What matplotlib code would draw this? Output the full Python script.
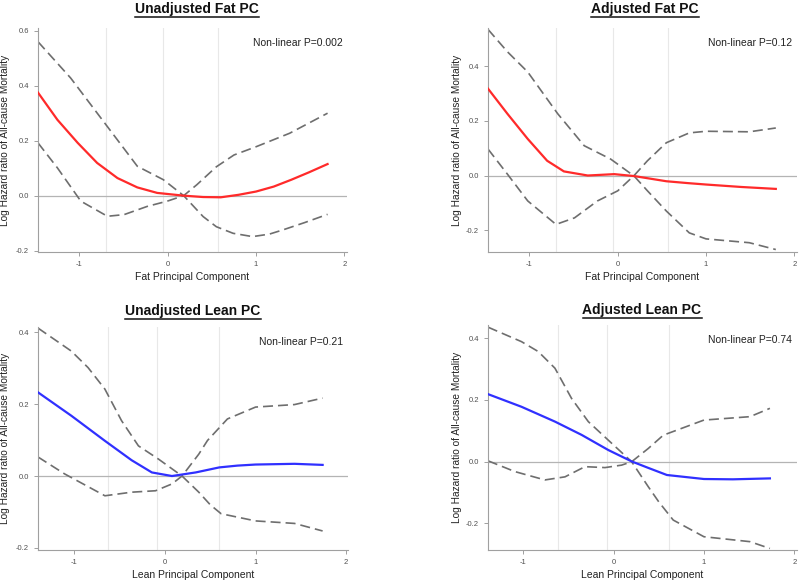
import matplotlib
matplotlib.use('Agg')
import matplotlib.pyplot as plt
from matplotlib.lines import Line2D

plt.rcParams['font.family'] = ['Liberation Sans', 'DejaVu Sans']

# ---- data ----
# Unadjusted Fat PC
uf_est_x = [-1.47, -1.25, -1.02, -0.8, -0.57, -0.345, -0.12, 0.18, 0.4, 0.6, 0.8, 1.0, 1.2, 1.4, 1.6, 1.81]
uf_est_y = [0.375, 0.276, 0.192, 0.119, 0.064, 0.030, 0.010, 0.0, -0.005, -0.006, 0.003, 0.015, 0.033, 0.058, 0.085, 0.115]
uf_ci1_x = [-1.47, -1.1, -0.7, -0.345, -0.05, 0.18, 0.4, 0.55, 0.74, 0.96, 1.15, 1.3, 1.55, 1.81]
uf_ci1_y = [0.56, 0.428, 0.258, 0.107, 0.058, 0.0, -0.076, -0.113, -0.137, -0.149, -0.14, -0.125, -0.098, -0.068]
uf_ci2_x = [-1.47, -1.25, -0.985, -0.684, -0.495, -0.232, -0.006, 0.18, 0.33, 0.55, 0.75, 1.0, 1.38, 1.81]
uf_ci2_y = [0.192, 0.101, -0.02, -0.075, -0.069, -0.039, -0.02, 0.0, 0.04, 0.105, 0.148, 0.178, 0.227, 0.30]

# Adjusted Fat PC
af_est_x = [-1.47, -1.25, -1.02, -0.8, -0.61, -0.34, -0.04, 0.185, 0.55, 0.8, 1.0, 1.4, 1.79]
af_est_y = [0.318, 0.226, 0.134, 0.054, 0.015, 0.0, 0.005, -0.002, -0.021, -0.028, -0.033, -0.042, -0.049]
af_ci1_x = [-1.47, -1.25, -1.02, -0.68, -0.38, -0.08, 0.185, 0.336, 0.55, 0.81, 1.0, 1.49, 1.79]
af_ci1_y = [0.535, 0.453, 0.379, 0.226, 0.109, 0.06, -0.002, -0.056, -0.13, -0.21, -0.232, -0.246, -0.271]
af_ci2_x = [-1.47, -1.25, -1.02, -0.7, -0.49, -0.23, 0.0, 0.185, 0.336, 0.55, 0.81, 1.0, 1.49, 1.79]
af_ci2_y = [0.097, 0.005, -0.093, -0.179, -0.155, -0.093, -0.056, 0.0, 0.054, 0.12, 0.156, 0.162, 0.16, 0.174]

# Unadjusted Lean PC
ul_est_x = [-1.40, -1.033, -0.662, -0.367, -0.144, 0.078, 0.34, 0.6, 0.8, 1.0, 1.43, 1.74]
ul_est_y = [0.233, 0.168, 0.098, 0.044, 0.010, 0.0, 0.01, 0.024, 0.029, 0.032, 0.034, 0.031]
ul_ci1_x = [-1.40, -1.033, -0.848, -0.662, -0.478, -0.292, -0.07, 0.189, 0.374, 0.5, 0.62, 1.0, 1.43, 1.74]
ul_ci1_y = [0.412, 0.348, 0.302, 0.242, 0.154, 0.084, 0.047, 0.0, -0.045, -0.08, -0.105, -0.125, -0.132, -0.153]
ul_ci2_x = [-1.40, -1.107, -0.662, -0.367, -0.103, 0.078, 0.189, 0.374, 0.47, 0.69, 1.0, 1.43, 1.74]
ul_ci2_y = [0.053, 0.006, -0.055, -0.045, -0.041, -0.022, 0.0, 0.061, 0.099, 0.159, 0.192, 0.199, 0.217]

# Adjusted Lean PC
al_est_x = [-1.39, -1.019, -0.649, -0.354, -0.059, 0.2, 0.384, 0.59, 1.0, 1.32, 1.73]
al_est_y = [0.219, 0.178, 0.130, 0.087, 0.038, 0.001, -0.02, -0.043, -0.056, -0.057, -0.054]
al_ci1_x = [-1.39, -1.019, -0.834, -0.649, -0.465, -0.28, -0.059, 0.2, 0.384, 0.5, 0.66, 1.0, 1.51, 1.73]
al_ci1_y = [0.436, 0.389, 0.357, 0.303, 0.205, 0.13, 0.07, 0.0, -0.081, -0.13, -0.189, -0.243, -0.259, -0.281]
al_ci2_x = [-1.39, -1.092, -0.76, -0.538, -0.317, -0.095, 0.089, 0.2, 0.384, 0.55, 1.0, 1.51, 1.73]
al_ci2_y = [0.003, -0.032, -0.059, -0.049, -0.016, -0.019, -0.011, 0.0, 0.043, 0.086, 0.135, 0.146, 0.173]

titles = ['Unadjusted Fat PC', 'Adjusted Fat PC', 'Unadjusted Lean PC', 'Adjusted Lean PC']
pvalues = ['Non-linear P=0.002', 'Non-linear P=0.12', 'Non-linear P=0.21', 'Non-linear P=0.74']
xlabels = ['Fat Principal Component', 'Fat Principal Component',
           'Lean Principal Component', 'Lean Principal Component']
ylabel = 'Log Hazard ratio of All-cause Mortality'
ref_lines = [[-0.70, -0.05, 0.57], [-0.70, -0.05, 0.57], [-0.626, -0.089, 0.6], [-0.62, -0.078, 0.61]]
yticks = [[-0.2, 0.0, 0.2, 0.4, 0.6], [-0.2, 0.0, 0.2, 0.4], [-0.2, 0.0, 0.2, 0.4], [-0.2, 0.0, 0.2, 0.4]]

panels = [
    (uf_est_x, uf_est_y, uf_ci1_x, uf_ci1_y, uf_ci2_x, uf_ci2_y, '#ff2a2a'),
    (af_est_x, af_est_y, af_ci1_x, af_ci1_y, af_ci2_x, af_ci2_y, '#ff2a2a'),
    (ul_est_x, ul_est_y, ul_ci1_x, ul_ci1_y, ul_ci2_x, ul_ci2_y, '#3030ff'),
    (al_est_x, al_est_y, al_ci1_x, al_ci1_y, al_ci2_x, al_ci2_y, '#3030ff'),
]

# ---- layout (pixel boxes: left, top, right, bottom) ----
W, H = 800, 583
boxes = [(38, 28, 347, 252), (488, 28, 797, 252), (38, 327, 348, 550), (488, 325, 797, 550)]
xlims = [(-1.47, 2.03), (-1.47, 2.03), (-1.40, 2.02), (-1.39, 2.03)]
ylims = [(-0.205, 0.61), (-0.28, 0.54), (-0.206, 0.415), (-0.286, 0.443)]
ylabel_x = [5, 457, 5, 457]      # pixel centre of the y label
xlabel_y = [277, 277, 575, 575]  # pixel centre of the x label
title_pos = [(197, 9), (645, 9), (193, 311), (642, 310)]

fig = plt.figure(figsize=(W / 100, H / 100), dpi=100)
for i, (ex, ey, c1x, c1y, c2x, c2y, col) in enumerate(panels):
    l, t, r, b = boxes[i]
    ax = fig.add_axes([l / W, 1 - b / H, (r - l) / W, (b - t) / H])
    for v in ref_lines[i]:
        ax.axvline(v, color='#e8e8e8', lw=0.8, zorder=1)
    ax.axhline(0, color='#b4b4b4', lw=0.9, zorder=1)
    ax.plot(c1x, c1y, color='#6e6e6e', lw=1.2, dashes=(6, 3), zorder=2)
    ax.plot(c2x, c2y, color='#6e6e6e', lw=1.2, dashes=(6, 3), zorder=2)
    ax.plot(ex, ey, color=col, lw=1.6, zorder=3)
    ax.set_xlim(*xlims[i])
    ax.set_ylim(*ylims[i])
    ax.set_xticks([-1, 0, 1, 2])
    ax.set_yticks(yticks[i])
    ax.set_xticklabels(['-1', '0', '1', '2'])
    ax.set_yticklabels(['%.1f' % v for v in yticks[i]])
    for s in ['top', 'right']:
        ax.spines[s].set_visible(False)
    for s in ['left', 'bottom']:
        ax.spines[s].set_color('#a0a0a0')
        ax.spines[s].set_linewidth(0.8)
    ax.tick_params(colors='#a0a0a0', labelcolor='#505050', labelsize=5.5, length=3, width=0.7)
    ax.set_xlabel(xlabels[i], fontsize=7.5, color='#222222', va='center')
    ax.xaxis.set_label_coords(0.5, -(xlabel_y[i] - b) / (b - t))
    ax.set_ylabel(ylabel, fontsize=7.3, color='#222222', va='center')
    ax.yaxis.set_label_coords((ylabel_x[i] - l) / (r - l), 0.5)
    ax.text(0.985, 0.955, pvalues[i], transform=ax.transAxes, ha='right', va='top',
            fontsize=7.5, color='#222222')
    ax.patch.set_alpha(0)

# titles with underline
title_texts = []
for i, t in enumerate(titles):
    tx, ty = title_pos[i]
    title_texts.append(fig.text(tx / W, 1 - ty / H, t, ha='center', va='center',
                                fontsize=10, fontweight='bold', color='#111111'))

fig.canvas.draw()
renderer = fig.canvas.get_renderer()
for txt in title_texts:
    bb = txt.get_window_extent(renderer)
    yl = (bb.y0 - 0.5) / H
    fig.add_artist(Line2D([bb.x0 / W, bb.x1 / W], [yl, yl], color='#111111', lw=1.1,
                          transform=fig.transFigure))

fig.savefig('out.png', dpi=100)
